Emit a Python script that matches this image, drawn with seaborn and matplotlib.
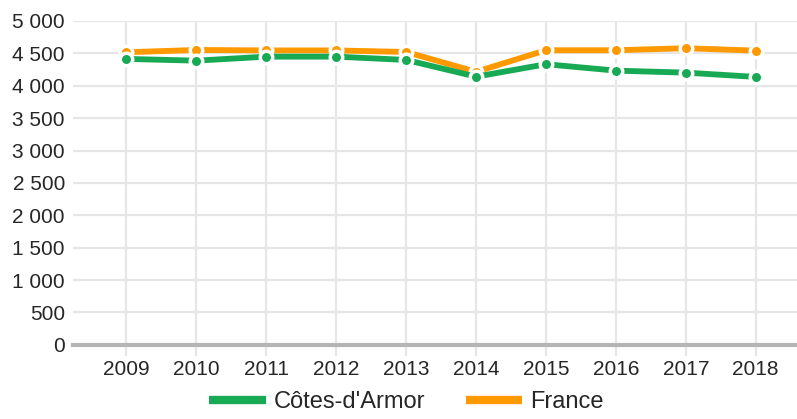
import pandas as pd
import matplotlib.pyplot as plt
import seaborn as sns
from matplotlib.lines import Line2D
from matplotlib.ticker import FuncFormatter

# ----------------------------------------
# Data
# ----------------------------------------
years = ["2009", "2010", "2011", "2012", "2013", "2014", "2015", "2016", "2017", "2018"]
cotes_darmor = [4414, 4387, 4449, 4449, 4398, 4140, 4332, 4233, 4202, 4136]
france = [4517, 4552, 4545, 4545, 4521, 4215, 4548, 4548, 4579, 4542]

series_names = ["Côtes-d'Armor", "France"]
colors = {"Côtes-d'Armor": "#17a954", "France": "#ff9900"}

df = pd.DataFrame({
    "year": years * 2,
    "value": cotes_darmor + france,
    "zone": [series_names[0]] * len(years) + [series_names[1]] * len(years),
})

# ----------------------------------------
# Style
# ----------------------------------------
sns.set_theme(style="white")
plt.rcParams["font.family"] = ["Liberation Sans", "DejaVu Sans"]

fig, ax = plt.subplots(figsize=(7.97, 4.19), dpi=100)
fig.subplots_adjust(left=0.092, right=1.0, top=0.95, bottom=0.177)

# draw France first so Côtes-d'Armor sits on top
for zone in ["France", "Côtes-d'Armor"]:
    sub = df[df["zone"] == zone]
    sns.lineplot(
        data=sub, x="year", y="value", ax=ax,
        color=colors[zone], linewidth=4.2, marker="o", markersize=9,
        markeredgecolor="white", markeredgewidth=2.5,
        sort=False, legend=False, zorder=3,
    )

ax.set_ylim(0, 5000)
ax.set_xlim(-0.76, 9.59)
ax.set_yticks(range(0, 5001, 500))
ax.yaxis.set_major_formatter(
    FuncFormatter(lambda v, p: f"{int(v):,}".replace(",", " "))
)

ax.grid(True, color="#e6e6e6", linewidth=1.6)
ax.set_axisbelow(True)
for side in ["top", "right", "left"]:
    ax.spines[side].set_visible(False)
ax.spines["bottom"].set_color("#b5b5b5")
ax.spines["bottom"].set_linewidth(3)

ax.tick_params(axis="x", length=8, width=1.6, color="#e6e6e6",
               labelsize=15, pad=3, bottom=True)
ax.tick_params(axis="y", length=0, labelsize=15, pad=6)
ax.set_xlabel("")
ax.set_ylabel("")

handles = [Line2D([0], [0], color=colors[n], linewidth=6, solid_capstyle="butt")
           for n in series_names]
fig.legend(handles, series_names, loc="lower center", ncol=2, frameon=False,
           fontsize=17, bbox_to_anchor=(0.51, -0.025), handlelength=2.4,
           columnspacing=1.7, handletextpad=0.35, borderpad=0.2)

plt.savefig("out.png", dpi=100)
